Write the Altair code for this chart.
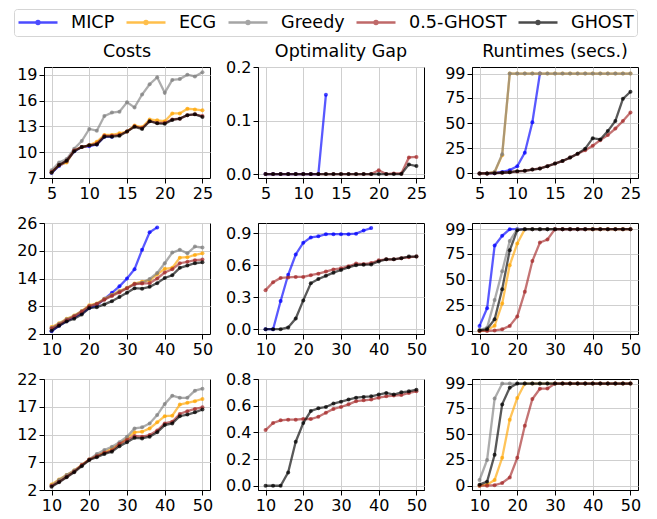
import altair as alt
import pandas as pd

SERIES = ["MICP", "ECG", "Greedy", "0.5-GHOST", "GHOST"]
COLORS = ["blue", "orange", "gray", "brown", "black"]

x_small = list(range(5, 26))
x_large = list(range(10, 51, 2))
x_ticks_small = [5, 10, 15, 20, 25]
x_ticks_large = [10, 20, 30, 40, 50]
col_titles = ["Costs", "Optimality Gap", "Runtimes (secs.)"]

# ---- Row 1 (x = 5..25) ----
r1_cost_micp = [7.6, 8.4, 8.9, 10.1, 10.6, 10.7, 10.9, 11.8, 11.8]
r1_cost_ecg = [7.7, 8.5, 8.8, 10.2, 10.6, 10.8, 11.2, 12.0, 12.0, 12.2, 12.4, 13.1, 12.9, 13.8, 13.7, 13.6, 14.5, 14.5, 15.05, 14.97, 14.86]
r1_cost_greedy = [7.9, 8.8, 9.2, 10.4, 11.3, 12.7, 12.5, 14.2, 14.6, 14.7, 15.8, 15.2, 16.7, 17.9, 18.7, 16.9, 18.4, 18.5, 19.0, 18.8, 19.3]
r1_cost_half = [7.7, 8.5, 9.0, 10.2, 10.6, 10.8, 11.0, 11.9, 11.9, 12.0, 12.4, 13.0, 12.8, 13.6, 13.4, 13.4, 13.8, 13.9, 14.3, 14.4, 14.2]
r1_cost_ghost = [7.6, 8.5, 9.0, 10.1, 10.6, 10.8, 10.9, 11.8, 11.8, 11.9, 12.4, 12.95, 12.7, 13.6, 13.35, 13.3, 13.75, 13.9, 14.3, 14.4, 14.1]

r1_gap_micp = [0, 0, 0, 0, 0, 0, 0, 0, 0.148]
r1_gap_half = [0, 0, 0, 0, 0, 0, 0, 0, 0, 0, 0, 0, 0, 0, 0, 0.007, 0, 0.001, 0.001, 0.031, 0.032]
r1_gap_ghost = [0, 0, 0, 0, 0, 0, 0, 0, 0, 0, 0, 0, 0, 0, 0, 0, 0, 0, 0, 0.018, 0.015]

r1_rt_micp = [0, 0, 0.3, 1.5, 3.3, 7.2, 20.6, 50.7, 99]
r1_rt_ecg = [0, 0, 1.5, 18, 99, 99, 99, 99, 99, 99, 99, 99, 99, 99, 99, 99, 99, 99, 99, 99, 99]
r1_rt_greedy = [0, 0, 1.5, 19, 99, 99, 99, 99, 99, 99, 99, 99, 99, 99, 99, 99, 99, 99, 99, 99, 99]
r1_rt_half = [0, 0, 0.3, 0.7, 1.2, 2.0, 2.7, 3.9, 5.0, 7.2, 9.8, 12.4, 15.7, 19.5, 23.0, 27.5, 33.0, 38.0, 44.5, 52.0, 60.4]
r1_rt_ghost = [0, 0, 0.3, 0.7, 1.2, 2.3, 2.6, 3.9, 4.9, 7.2, 9.8, 12.4, 15.7, 19.6, 24.5, 35.0, 33.7, 42.0, 52.0, 74.0, 81.0]

# ---- Row 2 (x = 10..50 step 2) ----
r2_cost_micp = [2.6, 3.8, 4.8, 5.6, 6.5, 7.6, 8.2, 9.6, 10.9, 12.3, 14.0, 16.0, 20.2, 24.0, 25.05]
r2_cost_ecg = [3.5, 4.3, 5.3, 6.0, 7.0, 8.2, 8.6, 9.6, 10.5, 11.3, 12.0, 12.9, 13.3, 13.6, 14.9, 16.1, 16.3, 18.5, 18.6, 19.1, 19.45]
r2_cost_greedy = [3.3, 4.2, 5.2, 5.9, 6.9, 8.0, 8.5, 9.5, 10.4, 11.2, 11.9, 12.8, 13.1, 13.9, 15.2, 17.3, 19.6, 20.2, 19.45, 20.9, 20.7]
r2_cost_half = [3.2, 4.0, 5.0, 5.8, 6.8, 8.0, 8.5, 9.4, 10.2, 11.0, 11.9, 12.8, 12.9, 13.0, 14.0, 15.3, 16.0, 17.3, 17.6, 17.95, 18.1]
r2_cost_ghost = [2.7, 3.8, 4.7, 5.3, 6.2, 7.6, 7.8, 8.4, 9.1, 10.0, 10.9, 11.9, 11.8, 12.2, 13.0, 14.1, 14.7, 16.3, 16.8, 17.3, 17.5]

r2_gap_micp = [0, 0, 0.264, 0.51, 0.70, 0.81, 0.86, 0.87, 0.89, 0.89, 0.89, 0.89, 0.895, 0.925, 0.947]
r2_gap_half = [0.366, 0.44, 0.48, 0.485, 0.49, 0.49, 0.506, 0.52, 0.54, 0.56, 0.57, 0.59, 0.615, 0.61, 0.62, 0.645, 0.655, 0.655, 0.665, 0.675, 0.68]
r2_gap_ghost = [0, 0, 0, 0.016, 0.10, 0.27, 0.43, 0.47, 0.50, 0.53, 0.555, 0.58, 0.60, 0.605, 0.607, 0.635, 0.655, 0.655, 0.665, 0.68, 0.68]

r2_rt_micp = [4.9, 22, 83, 92.5, 99, 99, 99, 99, 99, 99, 99, 99, 99, 99, 99]
r2_rt_ecg = [0, 1, 5, 26.6, 64, 85, 99, 99, 99, 99, 99, 99, 99, 99, 99, 99, 99, 99, 99, 99, 99]
r2_rt_greedy = [1, 3, 30, 58, 87.6, 99, 99, 99, 99, 99, 99, 99, 99, 99, 99, 99, 99, 99, 99, 99, 99]
r2_rt_half = [0, 0, 0.5, 1.6, 4.9, 14, 38, 68, 86, 89, 99, 99, 99, 99, 99, 99, 99, 99, 99, 99, 99]
r2_rt_ghost = [0.5, 1.6, 11.4, 40.6, 78.5, 98, 99, 99, 99, 99, 99, 99, 99, 99, 99, 99, 99, 99, 99, 99, 99]

# ---- Row 3 (x = 10..50 step 2) ----
r3_cost_ecg = [3.0, 3.9, 4.7, 5.5, 6.5, 7.5, 8.2, 8.8, 9.5, 10.3, 11.3, 12.4, 12.5, 13.1, 14.2, 15.3, 15.4, 17.4, 17.7, 18.0, 18.4]
r3_cost_greedy = [2.8, 3.8, 4.7, 5.5, 6.4, 7.5, 8.5, 9.2, 9.8, 10.6, 11.6, 13.1, 13.3, 14.0, 15.5, 17.5, 19.0, 18.6, 18.6, 19.9, 20.25]
r3_cost_half = [2.7, 3.5, 4.4, 5.3, 6.5, 7.5, 8.1, 8.7, 9.1, 10.3, 11.0, 11.75, 11.6, 11.9, 12.7, 14.0, 14.3, 15.7, 16.2, 16.6, 16.9]
r3_cost_ghost = [2.6, 3.4, 4.3, 5.2, 6.3, 7.4, 7.9, 8.5, 8.9, 9.9, 10.6, 11.4, 11.3, 11.6, 12.4, 13.7, 14.0, 15.3, 15.6, 16.0, 16.5]

r3_gap_half = [0.417, 0.47, 0.49, 0.495, 0.495, 0.50, 0.50, 0.517, 0.547, 0.576, 0.59, 0.61, 0.634, 0.64, 0.646, 0.66, 0.67, 0.676, 0.68, 0.696, 0.708]
r3_gap_ghost = [0, 0, 0, 0.10, 0.33, 0.47, 0.56, 0.58, 0.59, 0.616, 0.63, 0.646, 0.66, 0.666, 0.67, 0.683, 0.696, 0.683, 0.70, 0.708, 0.72]

r3_rt_ecg = [0, 1, 5.5, 27, 64, 85, 99, 99, 99, 99, 99, 99, 99, 99, 99, 99, 99, 99, 99, 99, 99]
r3_rt_greedy = [5.5, 25, 84.5, 99, 99, 99, 99, 99, 99, 99, 99, 99, 99, 99, 99, 99, 99, 99, 99, 99, 99]
r3_rt_half = [0, 0, 0.5, 2.6, 8, 27, 58, 84, 94, 94.2, 99, 99, 99, 99, 99, 99, 99, 99, 99, 99, 99]
r3_rt_ghost = [1, 3.9, 30, 78.8, 95, 99, 99, 99, 99, 99, 99, 99, 99, 99, 99, 99, 99, 99, 99, 99, 99]

FONT = "DejaVu Sans"
PW, PH = 166, 111

LEGEND = alt.Legend(
    title=None,
    orient="none",
    legendX=-30,
    legendY=-58,
    direction="horizontal",
    symbolType="M-1,0L1,0M0.08,0A0.08,0.08,0,1,1,-0.08,0A0.08,0.08,0,1,1,0.08,0",
    symbolSize=1521,
    symbolStrokeWidth=2.3,
    symbolOpacity=0.7,
    clipHeight=21,
    labelFontSize=17.6,
    labelFont=FONT,
    labelColor="black",
    labelOffset=12,
    columnPadding=10,
    strokeColor="#d5d5d5",
    fillColor="white",
    cornerRadius=3,
    padding=3,
)


def panel(series_data, xs, xdom, xticks, ydom, yticks, yfmt, title=None, title_offset=6):
    layers = []
    for name in SERIES:
        if name not in series_data:
            continue
        vals = series_data[name]
        df = pd.DataFrame({"x": xs[: len(vals)], "y": vals, "series": name})
        base = alt.Chart(df).encode(
            x=alt.X("x:Q", scale=alt.Scale(domain=xdom, nice=False, zero=False),
                    axis=alt.Axis(values=xticks, title=None, format="d")),
            y=alt.Y("y:Q", scale=alt.Scale(domain=ydom, nice=False, zero=False),
                    axis=alt.Axis(values=yticks, title=None, format=yfmt)),
            color=alt.Color("series:N", scale=alt.Scale(domain=SERIES, range=COLORS), legend=LEGEND),
        )
        layers.append(base.mark_line(strokeWidth=2.3, opacity=0.65))
        layers.append(base.mark_circle(size=16, opacity=0.72))
    ch = alt.layer(*layers).properties(width=PW, height=PH)
    if title:
        ch = ch.properties(title=alt.TitleParams(text=title, offset=title_offset))
    return ch


XS = [4, 26]
XL = [8, 52]
panels = [
    panel({"MICP": r1_cost_micp, "ECG": r1_cost_ecg, "Greedy": r1_cost_greedy, "0.5-GHOST": r1_cost_half, "GHOST": r1_cost_ghost},
          x_small, XS, x_ticks_small, [7, 19.9], [7, 10, 13, 16, 19], "d", col_titles[0], 6),
    panel({"MICP": r1_gap_micp, "0.5-GHOST": r1_gap_half, "GHOST": r1_gap_ghost},
          x_small, XS, x_ticks_small, [-0.0074, 0.2], [0, 0.1, 0.2], ".1f", col_titles[1], -1),
    panel({"MICP": r1_rt_micp, "ECG": r1_rt_ecg, "Greedy": r1_rt_greedy, "0.5-GHOST": r1_rt_half, "GHOST": r1_rt_ghost},
          x_small, XS, x_ticks_small, [-4.5, 105.5], [0, 25, 50, 75, 99], "d", col_titles[2], 5),
    panel({"MICP": r2_cost_micp, "ECG": r2_cost_ecg, "Greedy": r2_cost_greedy, "0.5-GHOST": r2_cost_half, "GHOST": r2_cost_ghost},
          x_large, XL, x_ticks_large, [2, 26], [2, 8, 14, 20, 26], "d"),
    panel({"MICP": r2_gap_micp, "0.5-GHOST": r2_gap_half, "GHOST": r2_gap_ghost},
          x_large, XL, x_ticks_large, [-0.045, 0.995], [0, 0.3, 0.6, 0.9], ".1f"),
    panel({"MICP": r2_rt_micp, "ECG": r2_rt_ecg, "Greedy": r2_rt_greedy, "0.5-GHOST": r2_rt_half, "GHOST": r2_rt_ghost},
          x_large, XL, x_ticks_large, [-3, 105], [0, 25, 50, 75, 99], "d"),
    panel({"ECG": r3_cost_ecg, "Greedy": r3_cost_greedy, "0.5-GHOST": r3_cost_half, "GHOST": r3_cost_ghost},
          x_large, XL, x_ticks_large, [2, 22], [2, 7, 12, 17, 22], "d"),
    panel({"0.5-GHOST": r3_gap_half, "GHOST": r3_gap_ghost},
          x_large, XL, x_ticks_large, [-0.032, 0.8], [0, 0.2, 0.4, 0.6, 0.8], ".1f"),
    panel({"ECG": r3_rt_ecg, "Greedy": r3_rt_greedy, "0.5-GHOST": r3_rt_half, "GHOST": r3_rt_ghost},
          x_large, XL, x_ticks_large, [-4.2, 103.4], [0, 25, 50, 75, 99], "d"),
]

chart = alt.concat(
    *panels, columns=3, spacing={"row": 45, "column": 48}, bounds="flush"
).properties(
    padding={"left": 5, "top": 0, "right": 0, "bottom": 0}
).configure_view(
    stroke="black", strokeWidth=1
).configure_axis(
    grid=True, gridColor="#cfcfcf", gridWidth=1,
    domainColor="black", tickColor="black", tickSize=5,
    labelFontSize=16, labelFont=FONT, labelColor="black", labelPadding=2,
).configure_title(
    fontSize=17.5, font=FONT, fontWeight="normal", color="black", anchor="middle"
)

chart.save("out.html", embed_options={"renderer": "svg", "actions": False})
